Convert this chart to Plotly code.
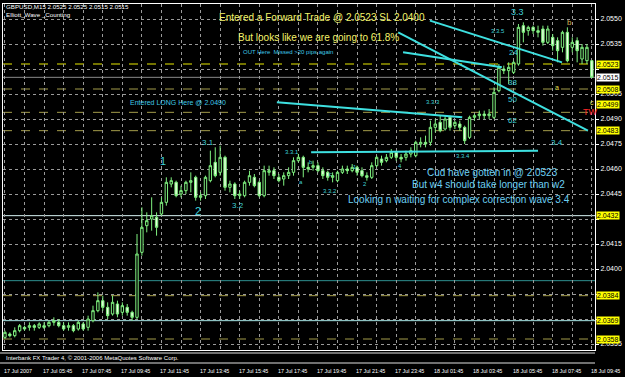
import plotly.graph_objects as go

# ---------------- data ----------------
bars = list(range(121))  # 15-minute bars, 17 Jul 2007 03:45 -> 18 Jul 2007 09:45

open_ = [2.0359, 2.0361, 2.0360, 2.0363, 2.0365, 2.0365, 2.0366, 2.0365, 2.0366, 2.0366,
         2.0368, 2.0368, 2.0366, 2.0365, 2.0366, 2.0364, 2.0367, 2.0365, 2.0369, 2.0375,
         2.0381, 2.0377, 2.0373, 2.0379, 2.0374, 2.0377, 2.0374, 2.0371, 2.0410, 2.0426,
         2.0430, 2.0431, 2.0433, 2.0440, 2.0451, 2.0452, 2.0445, 2.0447, 2.0452, 2.0455,
         2.0443, 2.0444, 2.0453, 2.0464, 2.0458, 2.0467, 2.0449, 2.0451, 2.0444, 2.0444,
         2.0452, 2.0455, 2.0452, 2.0444, 2.0458, 2.0459, 2.0455, 2.0454, 2.0456, 2.0458,
         2.0465, 2.0467, 2.0461, 2.0461, 2.0462, 2.0459, 2.0458, 2.0455, 2.0453, 2.0458,
         2.0460, 2.0459, 2.0461, 2.0459, 2.0456, 2.0455, 2.0462, 2.0466, 2.0465, 2.0467,
         2.0470, 2.0467, 2.0467, 2.0469, 2.0468, 2.0475, 2.0476, 2.0476, 2.0485, 2.0488,
         2.0484, 2.0491, 2.0486, 2.0487, 2.0485, 2.0479, 2.0491, 2.0492, 2.0493, 2.0492,
         2.0491, 2.0507, 2.0520, 2.0519, 2.0518, 2.0523, 2.0546, 2.0543, 2.0545, 2.0543,
         2.0544, 2.0536, 2.0539, 2.0537, 2.0533, 2.0542, 2.0533, 2.0537, 2.0526, 2.0525,
         2.0525]
high = [2.0363, 2.0362, 2.0365, 2.0367, 2.0366, 2.0368, 2.0367, 2.0368, 2.0368, 2.0369,
        2.0371, 2.0370, 2.0368, 2.0368, 2.0367, 2.0369, 2.0368, 2.0372, 2.0378, 2.0386,
        2.0384, 2.0380, 2.0384, 2.0381, 2.0380, 2.0379, 2.0375, 2.0421, 2.0437, 2.0434,
        2.0443, 2.0434, 2.0443, 2.0455, 2.0455, 2.0453, 2.0450, 2.0453, 2.0458, 2.0456,
        2.0446, 2.0456, 2.0471, 2.0473, 2.0474, 2.0468, 2.0453, 2.0452, 2.0447, 2.0453,
        2.0459, 2.0457, 2.0453, 2.0462, 2.0462, 2.0461, 2.0457, 2.0458, 2.0461, 2.0467,
        2.0469, 2.0468, 2.0464, 2.0465, 2.0464, 2.0461, 2.0459, 2.0458, 2.0459, 2.0462,
        2.0462, 2.0463, 2.0462, 2.0461, 2.0458, 2.0464, 2.0468, 2.0468, 2.0469, 2.0472,
        2.0471, 2.0469, 2.0471, 2.0473, 2.0477, 2.0479, 2.0480, 2.0489, 2.0490, 2.0492,
        2.0492, 2.0492, 2.0489, 2.0489, 2.0486, 2.0492, 2.0493, 2.0495, 2.0495, 2.0496,
        2.0509, 2.0523, 2.0522, 2.0524, 2.0525, 2.0547, 2.0548, 2.0546, 2.0546, 2.0546,
        2.0546, 2.0546, 2.0541, 2.0539, 2.0543, 2.0545, 2.0539, 2.0539, 2.0535, 2.0535,
        2.0525]
low = [2.0358, 2.0359, 2.0359, 2.0362, 2.0363, 2.0363, 2.0363, 2.0364, 2.0364, 2.0365,
       2.0366, 2.0365, 2.0363, 2.0363, 2.0362, 2.0363, 2.0363, 2.0363, 2.0368, 2.0374,
       2.0375, 2.0370, 2.0372, 2.0371, 2.0372, 2.0372, 2.0369, 2.0370, 2.0408, 2.0422,
       2.0423, 2.0420, 2.0432, 2.0438, 2.0449, 2.0443, 2.0443, 2.0445, 2.0446, 2.0441,
       2.0441, 2.0442, 2.0452, 2.0455, 2.0456, 2.0447, 2.0446, 2.0442, 2.0442, 2.0443,
       2.0450, 2.0449, 2.0443, 2.0443, 2.0456, 2.0454, 2.0452, 2.0450, 2.0454, 2.0456,
       2.0464, 2.0455, 2.0458, 2.0459, 2.0458, 2.0454, 2.0453, 2.0452, 2.0452, 2.0457,
       2.0457, 2.0458, 2.0456, 2.0455, 2.0453, 2.0454, 2.0461, 2.0462, 2.0464, 2.0466,
       2.0465, 2.0464, 2.0465, 2.0467, 2.0467, 2.0473, 2.0473, 2.0474, 2.0482, 2.0482,
       2.0483, 2.0483, 2.0484, 2.0483, 2.0475, 2.0478, 2.0489, 2.0490, 2.0490, 2.0490,
       2.0490, 2.0506, 2.0517, 2.0511, 2.0517, 2.0522, 2.0536, 2.0540, 2.0541, 2.0539,
       2.0534, 2.0535, 2.0531, 2.0524, 2.0530, 2.0524, 2.0530, 2.0524, 2.0523, 2.0523,
       2.0515]
close = [2.0362, 2.0360, 2.0363, 2.0366, 2.0364, 2.0366, 2.0365, 2.0367, 2.0365, 2.0368,
         2.0369, 2.0366, 2.0364, 2.0366, 2.0363, 2.0368, 2.0364, 2.0370, 2.0375, 2.0381,
         2.0377, 2.0372, 2.0380, 2.0373, 2.0378, 2.0374, 2.0371, 2.0409, 2.0425, 2.0429,
         2.0432, 2.0425, 2.0440, 2.0452, 2.0453, 2.0444, 2.0447, 2.0452, 2.0453, 2.0443,
         2.0444, 2.0455, 2.0462, 2.0456, 2.0467, 2.0449, 2.0451, 2.0444, 2.0445, 2.0452,
         2.0456, 2.0450, 2.0444, 2.0459, 2.0459, 2.0456, 2.0453, 2.0456, 2.0458, 2.0465,
         2.0467, 2.0461, 2.0460, 2.0462, 2.0459, 2.0456, 2.0455, 2.0456, 2.0458, 2.0460,
         2.0459, 2.0461, 2.0458, 2.0456, 2.0455, 2.0462, 2.0467, 2.0464, 2.0467, 2.0470,
         2.0467, 2.0466, 2.0469, 2.0471, 2.0476, 2.0476, 2.0475, 2.0485, 2.0487, 2.0483,
         2.0490, 2.0485, 2.0488, 2.0485, 2.0477, 2.0491, 2.0492, 2.0493, 2.0492, 2.0493,
         2.0506, 2.0521, 2.0519, 2.0521, 2.0524, 2.0545, 2.0542, 2.0545, 2.0543, 2.0542,
         2.0536, 2.0544, 2.0534, 2.0531, 2.0542, 2.0525, 2.0536, 2.0531, 2.0533, 2.0533,
         2.0515]

# time labels on the axis (every 8 bars)
time_label_bars = [0, 8, 16, 24, 32, 40, 48, 56, 64, 72, 80, 88, 96, 104, 112, 120]
time_labels = ["17 Jul 2007", "17 Jul 05:45", "17 Jul 07:45", "17 Jul 09:45", "17 Jul 11:45",
               "17 Jul 13:45", "17 Jul 15:45", "17 Jul 17:45", "17 Jul 19:45", "17 Jul 21:45",
               "17 Jul 23:45", "18 Jul 01:45", "18 Jul 03:45", "18 Jul 05:45", "18 Jul 07:45",
               "18 Jul 09:45"]

# price scale ticks (labels hidden where a highlighted price label covers them)
price_ticks = [2.0355, 2.0370, 2.0385, 2.0400, 2.0415, 2.0430, 2.0445, 2.0460, 2.0475,
               2.0490, 2.0505, 2.0520, 2.0535, 2.0550]
price_tick_text = ["2.0355", "", "", "2.0400", "2.0415", "", "2.0445", "2.0460", "2.0475",
                   "2.0490", "2.0505", "", "2.0535", "2.0550"]

# horizontal price lines (price, colour, dash)
hline_prices = [2.0523, 2.0515, 2.0508, 2.0494, 2.0483, 2.0432, 2.0393, 2.0384, 2.0369, 2.0358]
hline_colors = ["#e8e800", "#8a8a8a", "#a39c4a", "#a39c4a", "#a39c4a", "#d8f4f4", "#2e8f8f",
                "#a39c4a", "#a8e6e6", "#a39c4a"]
hline_dashes = ["dash", "solid", "dash", "dash", "dash", "solid", "solid", "dash", "solid", "dash"]

# highlighted price labels on the scale
label_prices = [2.0523, 2.0508, 2.0499, 2.0483, 2.0432, 2.0384, 2.0369, 2.0358]
bid_price = 2.0515

# trend lines: (bar0, price0, bar1, price1)
trend_lines = [
    (55.6, 2.0500, 93.5, 2.0491),
    (62.6, 2.0470, 109.0, 2.0471),
    (86.9, 2.0549, 113.9, 2.0524),
    (80.4, 2.0542, 119.2, 2.0483),
    (81.4, 2.0530, 101.6, 2.0521),
]

# wave / fib labels: (text, bar, price, size, colour)
wave_labels = [
    ("1", 32.3, 2.0465, 11, "#3fd0d8"),
    ("2", 39.5, 2.0435, 11, "#3fd0d8"),
    ("3.1", 41.5, 2.0476, 8, "#3fd0d8"),
    ("3.2", 47.6, 2.0438, 8, "#3fd0d8"),
    ("3.3.1", 58.7, 2.0470, 6, "#3fd0d8"),
    ("a", 60.5, 2.0452, 6, "#3fd0d8"),
    ("b", 62.6, 2.0464, 6, "#3fd0d8"),
    ("c", 66.5, 2.0457, 6, "#3fd0d8"),
    ("3.3.2", 66.5, 2.0447, 6, "#3fd0d8"),
    ("1", 71.6, 2.0461, 6, "#3fd0d8"),
    ("2", 73.6, 2.0451, 6, "#3fd0d8"),
    ("4", 80.8, 2.0462, 6, "#3fd0d8"),
    ("3.3.3", 87.5, 2.0500, 6, "#3fd0d8"),
    ("3.3.4", 93.7, 2.0468, 6, "#3fd0d8"),
    ("3.4", 112.9, 2.0476, 8, "#3fd0d8"),
    ("3.3.5", 100.8, 2.0543, 6, "#3fd0d8"),
    ("3.3", 104.7, 2.0554, 9, "#3fd0d8"),
    ("24", 103.9, 2.0530, 8, "#3fd0d8"),
    ("38", 103.7, 2.0512, 8, "#3fd0d8"),
    ("50", 103.7, 2.0502, 8, "#3fd0d8"),
    ("62", 103.7, 2.0489, 8, "#3fd0d8"),
    ("b", 115.5, 2.0548, 8, "#d8b850"),
    ("a", 112.9, 2.0509, 7, "#e8e050"),
    ("c", 120.0, 2.0500, 7, "#e8e050"),
    ("TW", 119.6, 2.0494, 9, "#ff2828"),
]

# comments: (text, bar, price, size, colour)
notes = [
    ("Entered a Forward Trade @ 2.0523 SL 2.0400", 64.8, 2.0551, 10, "#f4f46a"),
    ("But looks like we are going to 61.8%", 64.2, 2.0539, 10, "#f4f46a"),
    ("OUT Here  Missed >20 pips again", 57.9, 2.0530, 6, "#3fc8e8"),
    ("Entered LONG Here @ 2.0490", 35.4, 2.0500, 7, "#3fc8e8"),
    ("Cud have gotten in @ 2.0523", 99.6, 2.0458, 10, "#6cd0f4"),
    ("But w4 should take longer than w2", 98.8, 2.0451, 10, "#6cd0f4"),
    ("Looking n waiting for complex correction wave 3.4", 92.8, 2.0442, 10, "#6cd0f4"),
]

header_lines = ["GBPUSD,M15 2.0525 2.0525 2.0515 2.0515", "Elliott_Wave _Counting"]
copyright_text = "Interbank FX Trader 4, \u00a9 2001-2006 MetaQuotes Software Corp."

# ---------------- figure ----------------
FONT = "Liberation Sans, Arial, sans-serif"
W, H = 625, 377
ML, MR, MT, MB = 3, 30, 4, 27

fig = go.Figure()
fig.add_trace(go.Candlestick(
    x=bars, open=open_, high=high, low=low, close=close,
    increasing=dict(line=dict(color="#7ff07f", width=1), fillcolor="#000000"),
    decreasing=dict(line=dict(color="#7ff07f", width=1), fillcolor="#e8ffe0"),
    whiskerwidth=0, hoverinfo="skip", showlegend=False,
))

shapes = []
for p, c, d in zip(hline_prices, hline_colors, hline_dashes):
    shapes.append(dict(type="line", xref="paper", x0=0, x1=1, yref="y", y0=p, y1=p,
                       line=dict(color=c, width=1, dash=d), layer="below"))
for (b0, p0, b1, p1) in trend_lines:
    shapes.append(dict(type="line", xref="x", yref="y", x0=b0, y0=p0, x1=b1, y1=p1,
                       line=dict(color="#3ee0e0", width=2)))

plot_h = H - MT - MB
def py(px):  # paper y from pixel row
    return (H - MB - px) / plot_h

# frame lines below the chart (empty sub-window strip)
for yy in (353, 363):
    shapes.append(dict(type="line", xref="paper", yref="paper", x0=-0.005, x1=1.0,
                       y0=py(yy), y1=py(yy), line=dict(color="#e0e0e0", width=1)))

annotations = []
for t, b, p, s, c in wave_labels:
    annotations.append(dict(x=b, y=p, xref="x", yref="y", text=t, showarrow=False,
                            font=dict(family=FONT, size=s, color=c)))
for t, b, p, s, c in notes:
    annotations.append(dict(x=b, y=p, xref="x", yref="y", text=t, showarrow=False,
                            font=dict(family=FONT, size=s, color=c)))

for i, t in enumerate(header_lines):
    annotations.append(dict(x=0.002, y=py(6 + 8 * i), xref="paper", yref="paper", text=t,
                            showarrow=False, xanchor="left", yanchor="middle",
                            font=dict(family=FONT, size=6.2, color="#ffffff")))
annotations.append(dict(x=0.002, y=py(358), xref="paper", yref="paper", text=copyright_text,
                        showarrow=False, xanchor="left", yanchor="middle",
                        font=dict(family=FONT, size=6, color="#ffffff")))

for b, t in zip(time_label_bars, time_labels):
    annotations.append(dict(x=b, y=py(371), xref="x", yref="paper", text=t, showarrow=False,
                            xanchor="left", yanchor="middle", xshift=-3,
                            font=dict(family=FONT, size=5.4, color="#ffffff")))

for p in label_prices:
    annotations.append(dict(x=1, y=p, xref="paper", yref="y", text="%.4f" % p, showarrow=False,
                            xanchor="left", yanchor="middle", xshift=1, bgcolor="#ffff00",
                            borderpad=0, font=dict(family=FONT, size=7, color="#000000")))
annotations.append(dict(x=1, y=bid_price, xref="paper", yref="y", text="%.4f" % bid_price,
                        showarrow=False, xanchor="left", yanchor="middle", xshift=1,
                        bgcolor="#ffffff", borderpad=0,
                        font=dict(family=FONT, size=7, color="#000000")))

fig.update_layout(
    width=W, height=H,
    margin=dict(l=ML, r=MR, t=MT, b=MB),
    paper_bgcolor="#000000", plot_bgcolor="#000000",
    shapes=shapes, annotations=annotations,
    showlegend=False, hovermode=False,
    xaxis=dict(range=[-0.4, 120.65], rangeslider=dict(visible=False),
               tickmode="linear", tick0=0, dtick=4, showticklabels=False,
               showgrid=True, gridcolor="#9a9a9a", griddash="dot", gridwidth=1,
               ticks="", zeroline=False,
               showline=True, linecolor="#ffffff", linewidth=1, mirror=True),
    yaxis=dict(range=[2.03514, 2.0559], side="right",
               tickmode="array", tickvals=price_ticks,
               ticktext=price_tick_text,
               tickfont=dict(family=FONT, size=7, color="#ffffff"),
               ticks="outside", ticklen=3, tickcolor="#ffffff",
               showgrid=True, gridcolor="#9a9a9a", griddash="dot", gridwidth=1,
               zeroline=False, showline=True, linecolor="#ffffff", linewidth=1, mirror=True),
)

fig.write_html("out.html", config={"displayModeBar": False})
